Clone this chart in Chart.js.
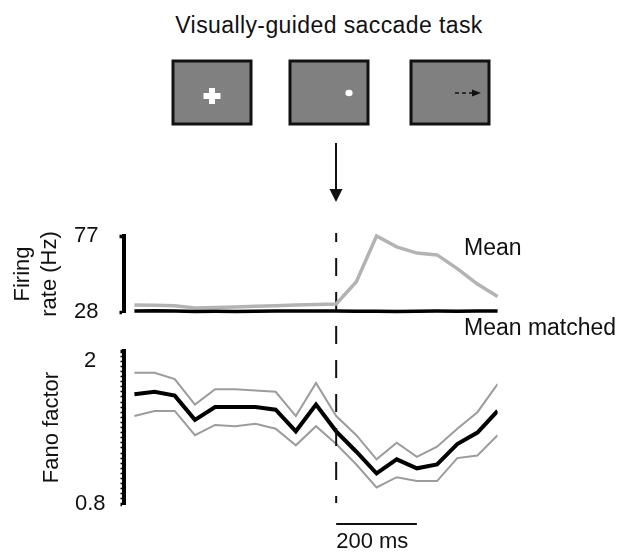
<!DOCTYPE html>
<html>
<head>
<meta charset="utf-8">
<script src="https://cdn.jsdelivr.net/npm/chart.js@4/dist/chart.umd.min.js"></script>
<style>
  html, body { margin:0; padding:0; background:#fff; }
  body { width:624px; height:552px; position:relative; overflow:hidden; font-family:"Liberation Sans", Arial, sans-serif; color:#111; }
  canvas { position:absolute; left:0; top:0; }
  .txt { position:absolute; font-size:23px; line-height:28px; white-space:nowrap; color:#111; }
</style>
</head>
<body>
<div class="txt" style="left:129px; width:400px; top:11px; text-align:center; letter-spacing:0.4px;">Visually-guided saccade task</div>
<svg width="624" height="230" style="position:absolute;left:0;top:0">
  <rect x="173" y="61" width="78" height="63" fill="#808080" stroke="#111" stroke-width="3"/>
  <rect x="290" y="61" width="78" height="63" fill="#808080" stroke="#111" stroke-width="3"/>
  <rect x="411" y="61" width="78" height="63" fill="#808080" stroke="#111" stroke-width="3"/>
  <rect x="203.5" y="93" width="17" height="6" fill="#fff"/>
  <rect x="209" y="88" width="6" height="16" fill="#fff"/>
  <ellipse cx="349" cy="93" rx="3.6" ry="3.3" fill="#fff"/>
  <line x1="455" y1="93" x2="472" y2="93" stroke="#111" stroke-width="1.5" stroke-dasharray="4,3"/>
  <polygon points="472,89.5 481,93 472,96.5" fill="#111"/>
  <line x1="336" y1="143" x2="336" y2="192" stroke="#111" stroke-width="2"/>
  <polygon points="329.5,189 342.5,189 336,202" fill="#111"/>
</svg>
<canvas id="fano" width="624" height="552"></canvas>
<canvas id="firing" width="624" height="552"></canvas>
<div class="txt" style="left:464px; top:233px;">Mean</div>
<div class="txt" style="left:464px; top:313px;">Mean matched</div>
<script>
// ---- data ----
const timeMs = [-500, -450, -400, -350, -300, -250, -200, -150, -100, -50, 0, 50, 100, 150, 200, 250, 300, 350, 400];
const firingMean = [32.5, 32.3, 32.0, 30.6, 30.9, 31.3, 31.7, 32.1, 32.5, 32.8, 33.2, 47.5, 77, 70, 66, 64.8, 56, 46, 38];
const firingMeanMatched = [28.7, 28.8, 28.6, 28.4, 28.5, 28.4, 28.5, 28.6, 28.6, 28.7, 28.6, 28.5, 28.5, 28.4, 28.5, 28.6, 28.5, 28.6, 28.7];
const fanoMean = [1.66, 1.68, 1.65, 1.46, 1.56, 1.56, 1.56, 1.54, 1.37, 1.58, 1.37, 1.21, 1.04, 1.15, 1.08, 1.11, 1.27, 1.36, 1.53];
const fanoUpper = [1.83, 1.83, 1.78, 1.58, 1.70, 1.70, 1.69, 1.68, 1.49, 1.75, 1.49, 1.34, 1.15, 1.28, 1.17, 1.25, 1.39, 1.52, 1.74];
const fanoLower = [1.49, 1.53, 1.53, 1.34, 1.42, 1.41, 1.43, 1.39, 1.26, 1.41, 1.27, 1.11, 0.93, 1.01, 0.98, 0.98, 1.16, 1.18, 1.34];
const firingTicks = [28, 77];
const firingTickLabels = ['28', '77'];
const fanoTicks = [0.8, 2];
const fanoTickLabels = ['0.8', '2'];
const scaleBarMs = 200;
const scaleBarLabel = '200 ms';

Chart.defaults.font.family = '"Liberation Sans", Arial, sans-serif';
Chart.defaults.color = '#111';

const pts = arr => arr.map((v, i) => ({x: timeMs[i], y: v}));
const xScale = { type: 'linear', min: -527, max: 400, display: false };

function fixY(width) {
  return function(scale) { scale.width = width; scale.paddingTop = 0; scale.paddingBottom = 0; };
}

const annot = {
  id: 'annot',
  afterDraw(chart) {
    const ctx = chart.ctx;
    const xs = chart.scales.x;
    const x0 = xs.getPixelForValue(0);
    ctx.save();
    ctx.strokeStyle = '#111';
    ctx.lineWidth = 2;
    ctx.setLineDash([18, 16]);
    ctx.lineDashOffset = 9;
    ctx.beginPath();
    ctx.moveTo(x0, 233);
    ctx.lineTo(x0, chart.chartArea.bottom - 1);
    ctx.stroke();
    ctx.setLineDash([]);
    const x1 = xs.getPixelForValue(scaleBarMs);
    ctx.lineWidth = 2;
    ctx.beginPath();
    ctx.moveTo(x0, 524);
    ctx.lineTo(x1, 524);
    ctx.stroke();
    ctx.fillStyle = '#111';
    ctx.font = '22px "Liberation Sans", Arial, sans-serif';
    ctx.textAlign = 'left';
    ctx.textBaseline = 'middle';
    ctx.fillText(scaleBarLabel, x0, 542);
    ctx.restore();
  }
};

new Chart(document.getElementById('fano'), {
  type: 'line',
  data: {
    datasets: [
      { data: pts(fanoMean), borderColor: '#000', borderWidth: 4 },
      { data: pts(fanoUpper), borderColor: '#9c9c9c', borderWidth: 2 },
      { data: pts(fanoLower), borderColor: '#9c9c9c', borderWidth: 2 }
    ]
  },
  options: {
    responsive: false, animation: false, devicePixelRatio: 1,
    layout: { padding: { top: 351, bottom: 48, left: 0, right: 126.4 } },
    elements: { point: { radius: 0 }, line: { tension: 0, fill: false } },
    plugins: { legend: { display: false }, tooltip: { enabled: false } },
    scales: {
      x: xScale,
      y: {
        min: 0.8, max: 2,
        afterBuildTicks(scale) {
          const t = [];
          for (let i = 0; i <= 30; i++) t.push({ value: +(0.8 + i * 0.04).toFixed(2) });
          scale.ticks = t;
        },
        afterFit: fixY(123.5),
        border: { display: true, width: 4, color: '#000' },
        grid: {
          drawOnChartArea: false, drawTicks: true, tickLength: 3, color: '#000',
          tickWidth: ctx => (ctx.tick && fanoTicks.some(v => Math.abs(v - ctx.tick.value) < 1e-6)) ? 3.5 : 1.6
        },
        ticks: {
          padding: 15, crossAlign: 'center', color: '#111', autoSkip: false,
          font: { size: 22, lineHeight: '20px' },
          callback(value) {
            const k = fanoTicks.findIndex(v => Math.abs(v - value) < 1e-6);
            if (k < 0) return '';
            return value === fanoTicks[fanoTicks.length - 1] ? ['', fanoTickLabels[k]] : fanoTickLabels[k];
          }
        },
        title: { display: true, text: 'Fano factor', color: '#111', font: { size: 22, lineHeight: 1.2 }, padding: { top: 39, bottom: 0 } }
      }
    }
  },
  plugins: [annot]
});

new Chart(document.getElementById('firing'), {
  type: 'line',
  data: {
    datasets: [
      { data: pts(firingMeanMatched), borderColor: '#000', borderWidth: 3.5, clip: false },
      { data: pts(firingMean), borderColor: '#b3b3b3', borderWidth: 3.5, clip: false }
    ]
  },
  options: {
    responsive: false, animation: false, devicePixelRatio: 1,
    layout: { padding: { top: 236, bottom: 240, left: 0, right: 126.4 } },
    elements: { point: { radius: 0 }, line: { tension: 0, fill: false } },
    plugins: { legend: { display: false }, tooltip: { enabled: false } },
    scales: {
      x: xScale,
      y: {
        min: 28, max: 77,
        afterBuildTicks(scale) { scale.ticks = firingTicks.map(v => ({ value: v })); },
        afterFit: fixY(123.5),
        border: { display: true, width: 4, color: '#000' },
        grid: { drawOnChartArea: false, drawTicks: true, tickLength: 4, tickWidth: 3.5, color: '#000' },
        ticks: {
          padding: 21, crossAlign: 'center', color: '#111', autoSkip: false,
          font: { size: 22 },
          callback(value) {
            const k = firingTicks.indexOf(value);
            return k < 0 ? '' : firingTickLabels[k];
          }
        },
        title: { display: true, text: ['Firing', 'rate (Hz)'], color: '#111', font: { size: 22, lineHeight: 1.2 }, padding: { top: 10, bottom: 0 } }
      }
    }
  }
});
</script>
</body>
</html>
